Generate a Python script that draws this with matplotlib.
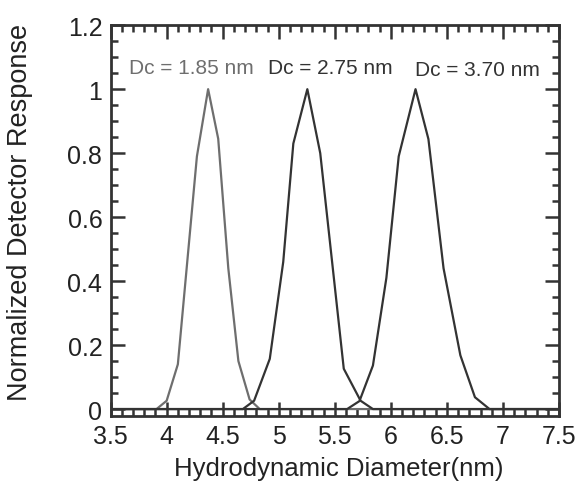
import numpy as np
import matplotlib
matplotlib.use('Agg')
import matplotlib.pyplot as plt
from matplotlib.ticker import MultipleLocator

# size distributions read per core diameter
d_185 = [3.5, 3.91, 4.0, 4.10, 4.27, 4.37, 4.46, 4.55, 4.64, 4.74, 4.83, 7.5]
r_185 = [0, 0, 0.026, 0.14, 0.79, 1.0, 0.845, 0.44, 0.15, 0.03, 0, 0]

d_275 = [3.5, 4.68, 4.78, 4.92, 5.04, 5.13, 5.255, 5.37, 5.58, 5.73, 5.84, 7.5]
r_275 = [0, 0, 0.026, 0.157, 0.46, 0.83, 1.0, 0.80, 0.126, 0.026, 0, 0]

d_370 = [3.5, 5.61, 5.72, 5.84, 5.96, 6.07, 6.22, 6.335, 6.47, 6.62, 6.75, 6.88, 7.5]
r_370 = [0, 0, 0.025, 0.136, 0.41, 0.79, 1.0, 0.844, 0.44, 0.168, 0.037, 0, 0]

labels = ['Dc = 1.85 nm', 'Dc = 2.75 nm', 'Dc = 3.70 nm']
label_x = [4.22, 5.46, 6.77]
label_y = [1.068, 1.068, 1.063]
colors = ['#6e6e6e', '#333333', '#333333']

plt.rcParams.update({'font.family': ['Liberation Sans', 'DejaVu Sans']})

fig = plt.figure(figsize=(5.79, 4.85), dpi=100)
ax = fig.add_axes([0.191, 0.14, 0.7745, 0.806])

for d, r, c in zip([d_185, d_275, d_370], [r_185, r_275, r_370], colors):
    ax.plot(d, r, color=c, lw=1.6)

for t, x, y, c in zip(labels, label_x, label_y, colors):
    ax.text(x, y, t, color=c, fontsize=15, ha='center', va='center')

ax.set_xlim(3.5, 7.5)
ax.set_ylim(-0.022, 1.2)
ax.xaxis.set_minor_locator(MultipleLocator(0.1))
ax.yaxis.set_minor_locator(MultipleLocator(0.05))
ax.set_xticks(np.arange(3.5, 7.51, 0.5))
ax.set_xticklabels(['3.5', '4', '4.5', '5', '5.5', '6', '6.5', '7', '7.5'])
ax.set_yticks(np.arange(0, 1.21, 0.2))
ax.set_yticklabels(['0', '0.2', '0.4', '0.6', '0.8', '1', '1.2'])

ax.tick_params(which='both', direction='in', top=True, right=True,
               width=1.8, color='#333333', labelsize=18, labelcolor='#222222')
ax.tick_params(which='major', length=10, pad=6)
ax.tick_params(which='minor', length=5)
for s in ax.spines.values():
    s.set_linewidth(2)
    s.set_color('#333333')

ax.set_xlabel('Hydrodynamic Diameter(nm)', fontsize=18.5, color='#222222')
ax.set_ylabel('Normalized Detector Response', fontsize=19.5, color='#222222')
ax.xaxis.set_label_coords(0.508, -0.102)
ax.yaxis.set_label_coords(-0.173, 0.524)

fig.savefig('out.png', dpi=100)
